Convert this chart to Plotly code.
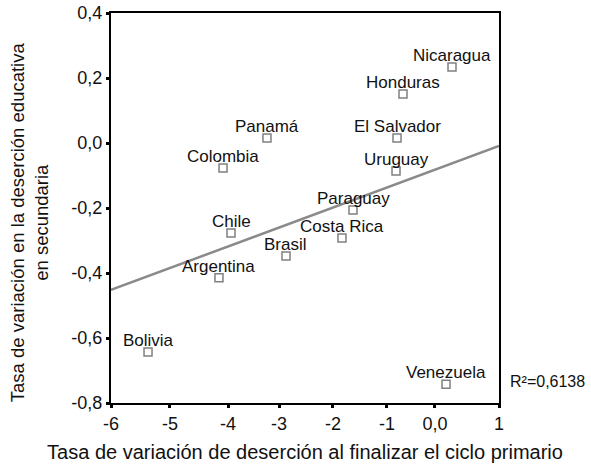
import plotly.graph_objects as go

# ---- data ----
countries = ["Nicaragua", "Honduras", "El Salvador", "Uruguay", "Paraguay",
             "Costa Rica", "Brasil", "Argentina", "Bolivia", "Venezuela",
             "Panamá", "Colombia", "Chile"]
x_primaria = [0.152, -0.732, -0.840, -0.858, -1.634, -1.833, -2.843,
              -4.052, -5.332, 0.044, -3.186, -3.979, -3.835]
y_secundaria = [0.234, 0.151, 0.015, -0.086, -0.206, -0.292, -0.348,
                -0.415, -0.643, -0.742, 0.015, -0.077, -0.277]

fit_x = [-6, 1]
fit_y = [-0.452, -0.009]

x_tick_labels = ["-6", "-5", "-4", "-3", "-2", "-1", "0,0", "1"]
y_tick_values = [0.4, 0.2, 0.0, -0.2, -0.4, -0.6, -0.8]
y_tick_labels = ["0,4", "0,2", "0,0", "-0,2", "-0,4", "-0,6", "-0,8"]
r2_text = "R²=0,6138"
x_title = "Tasa de variación de deserción al finalizar el ciclo primario"
y_title = "Tasa de variación en la deserción educativa<br>en secundaria"

# tick placement as drawn in the original graphic
x_tick_positions = [-6, -4.936, -3.889, -2.969, -1.995, -1.021, -0.155, 1]

FONT = "Liberation Sans, Arial, sans-serif"

fig = go.Figure()

fig.add_trace(go.Scatter(
    x=fit_x, y=fit_y, mode="lines",
    line=dict(color="#8a8a8a", width=2.5),
    hoverinfo="skip", showlegend=False,
))

fig.add_trace(go.Scatter(
    x=x_primaria, y=y_secundaria, mode="markers",
    text=countries, hovertemplate="%{text}<extra></extra>",
    marker=dict(symbol="square-open", size=8, color="#808080",
                line=dict(width=1.5, color="#808080")),
    showlegend=False,
))

# country labels placed just above each point
for name, xv, yv in zip(countries, x_primaria, y_secundaria):
    fig.add_annotation(
        x=xv, y=yv, xref="x", yref="y", text=name,
        xanchor="center", yanchor="bottom", yshift=0,
        showarrow=False, font=dict(family=FONT, size=17, color="#111111"),
    )

fig.add_annotation(
    text=r2_text, xref="paper", yref="paper",
    x=1.022, y=0.054, xanchor="left", yanchor="middle",
    showarrow=False, font=dict(family=FONT, size=16, color="#111111"),
)

fig.add_annotation(
    text=y_title, xref="paper", yref="paper",
    x=-0.211, y=0.464, xanchor="center", yanchor="middle",
    textangle=-90, showarrow=False,
    font=dict(family=FONT, size=18.5, color="#111111"),
)

fig.update_layout(
    width=591, height=464,
    margin=dict(l=111, r=92, t=13, b=61),
    plot_bgcolor="white", paper_bgcolor="white",
    font=dict(family=FONT, color="#111111"),
    xaxis=dict(
        range=[-6, 1], tickmode="array",
        tickvals=x_tick_positions, ticktext=x_tick_labels,
        showgrid=False, zeroline=False, automargin=False,
        showline=True, linecolor="black", linewidth=2, mirror=True,
        ticks="outside", ticklen=3, tickwidth=3, tickcolor="black",
        tickfont=dict(family=FONT, size=18, color="#111111"),
        title=dict(text=x_title,
                   font=dict(family=FONT, size=20, color="#111111"),
                   standoff=12),
    ),
    yaxis=dict(
        range=[-0.8, 0.4], tickmode="array",
        tickvals=y_tick_values, ticktext=y_tick_labels,
        showgrid=False, zeroline=False, automargin=False,
        showline=True, linecolor="black", linewidth=2, mirror=True,
        ticks="outside", ticklen=3, tickwidth=3, tickcolor="black",
        tickfont=dict(family=FONT, size=18, color="#111111"),
    ),
)

# remove the default 8px page margin so the figure fills the window
fig.write_html("out.html", config={"displayModeBar": False},
               post_script="document.body.style.margin='0';")
